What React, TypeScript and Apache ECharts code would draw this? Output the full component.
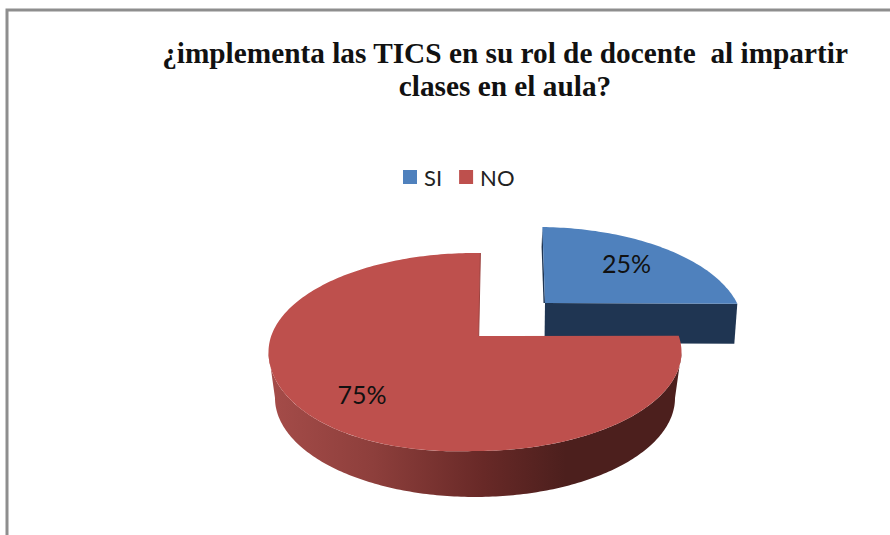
import React, { useEffect, useRef } from "react";
import * as echarts from "echarts";

const titleText = "¿implementa las TICS en su rol de docente  al impartir\nclases en el aula?";
const categories = ["SI", "NO"];
const shareValues = [25, 75];

const total = shareValues.reduce((a, b) => a + b, 0);

// Perspective warp: first quarter of the pie is foreshortened compared with the rest.
function warp(theta: number, quarterPhi: number) {
  const startPhi = 1.5;
  if (theta <= 90) return startPhi + (theta * (quarterPhi - startPhi)) / 90;
  return quarterPhi + ((theta - 90) * (360 + startPhi - quarterPhi)) / 270;
}

function ell(e: any, phiDeg: number): [number, number] {
  const p = (phiDeg * Math.PI) / 180;
  const bump = e.bump && phiDeg > 180 && phiDeg < 270 ? e.bump * Math.sin(2 * (p - Math.PI)) : 0;
  return [e.cx + e.rx * Math.sin(p), e.cy - e.ry * Math.cos(p) + bump];
}

function arcPts(e: any, a: number, b: number): [number, number][] {
  const n = Math.max(8, Math.ceil(Math.abs(b - a)));
  const pts: [number, number][] = [];
  for (let i = 0; i <= n; i++) pts.push(ell(e, a + ((b - a) * i) / n));
  return pts;
}

function sweepOf(idx: number) {
  let acc = 0;
  for (let i = 0; i < idx; i++) acc += shareValues[i];
  return [(acc / total) * 360, ((acc + shareValues[idx]) / total) * 360];
}

const labelFont = "25px Lato, sans-serif";

const renderSI = (_: any, api: any) => {
  const v = api.value(0);
  const top = { cx: 537, cy: 327, rx: 206, ry: 100 };
  const apex: [number, number] = [545, 303];
  const [t0, t1] = sweepOf(0);
  const q = 76.5;
  const a = warp(t0, q);
  const b = warp(t1, q);
  const outer = arcPts(top, a, b);
  const corner = outer[outer.length - 1];
  return {
    type: "group",
    children: [
      {
        type: "polygon",
        shape: { points: [apex, corner, [corner[0] - 3, corner[1] + 40], [apex[0] - 0.5, apex[1] + 40]] },
        style: { fill: "#1F3552" },
      },
      {
        type: "polygon",
        shape: { points: [outer[0], apex, [apex[0] - 1.5, apex[1]], [outer[0][0] - 0.8, outer[0][1] + 20]] },
        style: { fill: "#1F3552" },
      },
      {
        type: "polygon",
        shape: { points: [apex, ...outer] },
        style: { fill: "#4F81BD" },
      },
      {
        type: "text",
        x: 626.5,
        y: 263,
        style: {
          text: `${Math.round((v / total) * 100)}%`,
          fill: "#111111",
          font: labelFont,
          textAlign: "center",
          textVerticalAlign: "middle",
        },
      },
    ],
  };
};

const renderNO = (_: any, api: any) => {
  const v = api.value(0);
  const top = { cx: 475, cy: 352, rx: 206.5, ry: 99, bump: 4 };
  const low = { cx: 475, cy: 398, rx: 200, ry: 99 };
  const apex: [number, number] = [478.7, 336];
  const [t0, t1] = sweepOf(1);
  const q = 80.6;
  const a = warp(t0, q);
  const b = warp(t1, q);
  const wallUp = arcPts(top, 90, 270);
  const wallLow = arcPts(low, 270, 90);
  const outer = arcPts(top, a, b);
  const last = outer[outer.length - 1];
  return {
    type: "group",
    children: [
      {
        type: "polygon",
        shape: { points: [...wallUp, ...wallLow] },
        style: {
          fill: new echarts.graphic.LinearGradient(0, 0, 1, 0, [
            { offset: 0, color: "#A54C49" },
            { offset: 0.25, color: "#8E3F3C" },
            { offset: 0.52, color: "#682927" },
            { offset: 0.72, color: "#4C1F1D" },
            { offset: 1, color: "#4C1F1D" },
          ]),
        },
      },
      {
        type: "polygon",
        shape: { points: [apex, ...outer] },
        style: { fill: "#BE504D" },
      },
      {
        type: "polyline",
        shape: { points: [last, apex] },
        style: { stroke: "#9C4340", lineWidth: 1, fill: "none" },
      },
      {
        type: "text",
        x: 362,
        y: 394,
        style: {
          text: `${Math.round((v / total) * 100)}%`,
          fill: "#111111",
          font: labelFont,
          textAlign: "center",
          textVerticalAlign: "middle",
        },
      },
    ],
  };
};

export default function App() {
  const ref = useRef<HTMLDivElement>(null);
  useEffect(() => {
    const chart = echarts.init(ref.current!, undefined, { renderer: "svg" });
    chart.setOption({
      animation: false,
      backgroundColor: "#ffffff",
      title: {
        text: titleText,
        left: 500,
        top: 31,
        textAlign: "center",
        textStyle: {
          fontFamily: '"Liberation Serif", serif',
          fontWeight: "bold",
          fontSize: 29.3,
          lineHeight: 33,
          color: "#111111",
        },
      },
      legend: {
        data: categories,
        left: 398,
        top: 161,
        icon: "rect",
        itemWidth: 14,
        itemHeight: 14,
        itemGap: 17,
        textStyle: { fontFamily: "Lato, sans-serif", fontSize: 22, color: "#222222", padding: [0, 0, 0, 2] },
      },
      graphic: [
        {
          type: "polyline",
          shape: { points: [[7, 535], [7, 10], [890, 10]] },
          style: { stroke: "#8E8E8E", lineWidth: 3, fill: "none" },
        },
      ],
      series: [
        {
          type: "custom",
          name: categories[0],
          coordinateSystem: "none",
          itemStyle: { color: "#4F81BD" },
          data: [[shareValues[0]]],
          renderItem: renderSI,
        },
        {
          type: "custom",
          name: categories[1],
          coordinateSystem: "none",
          itemStyle: { color: "#BE504D" },
          data: [[shareValues[1]]],
          renderItem: renderNO,
        },
      ],
    });
    return () => chart.dispose();
  }, []);
  return (
    <div
      ref={ref}
      style={{ position: "fixed", left: 0, top: 0, width: 890, height: 535 }}
    />
  );
}
